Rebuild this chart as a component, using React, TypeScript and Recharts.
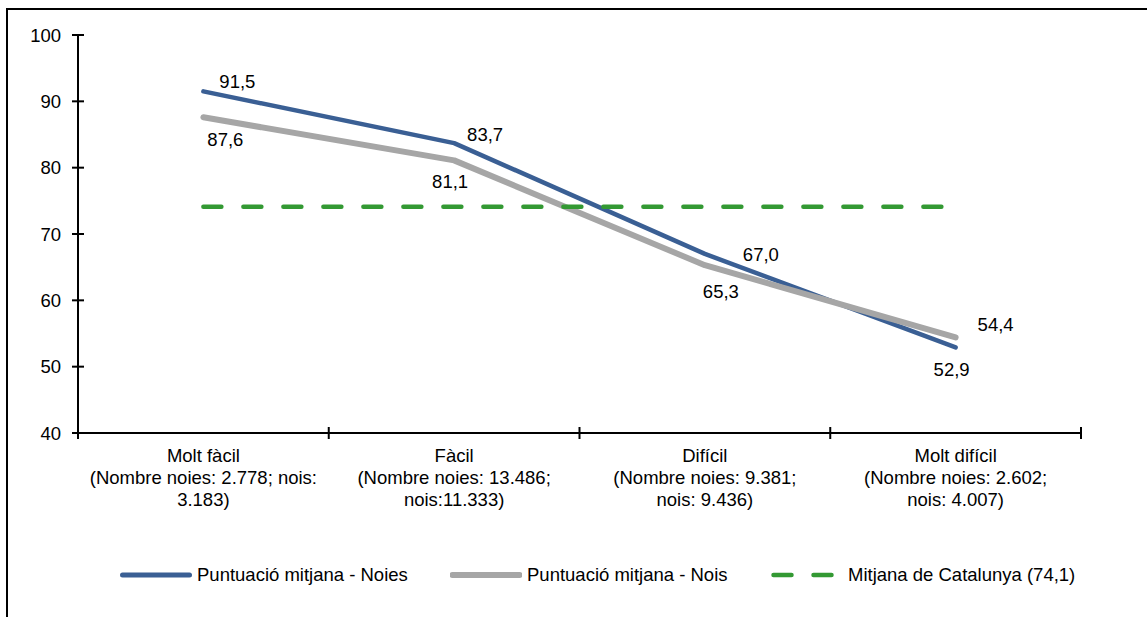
import React from 'react'
import { LineChart, Line, XAxis, YAxis, Legend, LabelList } from 'recharts'

const categories = ['Molt fàcil', 'Fàcil', 'Difícil', 'Molt difícil']
const categoryLines = [
  ['Molt fàcil', '(Nombre noies: 2.778; nois:', '3.183)'],
  ['Fàcil', '(Nombre noies: 13.486;', 'nois:11.333)'],
  ['Difícil', '(Nombre noies: 9.381;', 'nois: 9.436)'],
  ['Molt difícil', '(Nombre noies: 2.602;', 'nois: 4.007)'],
]
const noies = [91.5, 83.7, 67.0, 52.9]
const nois = [87.6, 81.1, 65.3, 54.4]
const mitjana = [74.1, 74.1, 74.1, 74.1]
const yTicks = [40, 50, 60, 70, 80, 90, 100]

const data = categories.map((c, i) => ({
  cat: c,
  noies: noies[i],
  nois: nois[i],
  mitjana: mitjana[i],
}))

const FONT = '"Liberation Sans", Arial, sans-serif'
const FS = 18.5
const BLUE = '#3A5F94'
const GRAY = '#A6A6A6'
const GREEN = '#339933'

// label offsets (dx, dy) from each point, as placed in the original
const noiesOffsets = [[34, -10], [31, -9], [56, 1], [-4, 22]]
const noisOffsets = [[22, 22], [-4, 21], [16, 26], [40, -13]]

const fmt = (v: number) => v.toFixed(1).replace('.', ',')

const makeLabel = (offsets: number[][]) => (props: any) => {
  const { x, y, value, index } = props
  const [dx, dy] = offsets[index] || [0, 0]
  return (
    <text
      x={x + dx}
      y={y + dy}
      textAnchor="middle"
      dominantBaseline="central"
      fontFamily={FONT}
      fontSize={FS}
      fill="#000"
    >
      {fmt(value)}
    </text>
  )
}

const YTick = (props: any) => {
  const { x, y, payload } = props
  return (
    <g>
      <line x1={x - 6} x2={x + 6} y1={y} y2={y} stroke="#000" strokeWidth={2} />
      <text
        x={x - 17}
        y={y}
        textAnchor="end"
        dominantBaseline="central"
        fontFamily={FONT}
        fontSize={FS}
        fill="#000"
      >
        {payload.value}
      </text>
    </g>
  )
}

const XTick = (props: any) => {
  const { x, y, payload, index } = props
  const half = payload.offset || 125.4
  const lines = categoryLines[index] || [payload.value]
  return (
    <g>
      <line x1={x - half} x2={x - half} y1={y - 6} y2={y + 6} stroke="#000" strokeWidth={2} />
      {index === categories.length - 1 && (
        <line x1={x + half} x2={x + half} y1={y - 6} y2={y + 6} stroke="#000" strokeWidth={2} />
      )}
      <text x={x} y={y} textAnchor="middle" fontFamily={FONT} fontSize={FS} fill="#000">
        {lines.map((l, i) => (
          <tspan key={i} x={x} dy={i === 0 ? 28.5 : 22}>
            {l}
          </tspan>
        ))}
      </text>
    </g>
  )
}

const legendItems = [
  { name: 'Puntuació mitjana - Noies', color: BLUE, width: 5, dash: undefined, box: 330 },
  { name: 'Puntuació mitjana - Nois', color: GRAY, width: 6, dash: undefined, box: 321 },
  { name: 'Mitjana de Catalunya (74,1)', color: GREEN, width: 4.5, dash: '18 22', box: 320 },
]

const renderLegend = () => (
  <div
    style={{
      display: 'flex',
      alignItems: 'center',
      height: 24,
      paddingLeft: 112,
      fontFamily: FONT,
      fontSize: FS,
      color: '#000',
      whiteSpace: 'nowrap',
    }}
  >
    {legendItems.map((it) => (
      <div key={it.name} style={{ display: 'flex', alignItems: 'center', width: it.box }}>
        <svg width={72} height={10} style={{ marginRight: 5 }}>
          <line
            x1={2.5}
            x2={69.5}
            y1={5}
            y2={5}
            stroke={it.color}
            strokeWidth={it.width}
            strokeLinecap="round"
            strokeDasharray={it.dash}
          />
        </svg>
        <span>{it.name}</span>
      </div>
    ))}
  </div>
)

export default function App() {
  return (
    <div
      style={{
        position: 'fixed',
        left: 6,
        top: 8,
        width: 1160,
        height: 630,
        borderLeft: '2px solid #000',
        borderTop: '2px solid #000',
        background: '#fff',
      }}
    >
      <LineChart
        width={1139}
        height={607}
        data={data}
        margin={{ top: 25, right: 66, left: 10, bottom: 30 }}
      >
        <XAxis
          dataKey="cat"
          scale="band"
          height={130}
          tickLine={false}
          tickSize={0}
          tickMargin={0}
          axisLine={{ stroke: '#000', strokeWidth: 2 }}
          tick={<XTick />}
          interval={0}
        />
        <YAxis
          domain={[40, 100]}
          ticks={yTicks}
          width={60}
          tickLine={false}
          tickSize={0}
          tickMargin={0}
          axisLine={{ stroke: '#000', strokeWidth: 2 }}
          tick={<YTick />}
          allowDataOverflow
        />
        <Legend
          verticalAlign="bottom"
          content={renderLegend}
          wrapperStyle={{ left: 0, width: 1139 }}
        />
        <Line
          dataKey="noies"
          name="Puntuació mitjana - Noies"
          stroke={BLUE}
          strokeWidth={4.5}
          strokeLinecap="round"
          strokeLinejoin="round"
          dot={false}
          activeDot={false}
          isAnimationActive={false}
        >
          <LabelList dataKey="noies" content={makeLabel(noiesOffsets)} />
        </Line>
        <Line
          dataKey="nois"
          name="Puntuació mitjana - Nois"
          stroke={GRAY}
          strokeWidth={6}
          strokeLinecap="round"
          strokeLinejoin="round"
          dot={false}
          activeDot={false}
          isAnimationActive={false}
        >
          <LabelList dataKey="nois" content={makeLabel(noisOffsets)} />
        </Line>
        <Line
          dataKey="mitjana"
          name="Mitjana de Catalunya (74,1)"
          stroke={GREEN}
          strokeWidth={4.5}
          strokeLinecap="round"
          strokeDasharray="18 22"
          dot={false}
          activeDot={false}
          isAnimationActive={false}
        />
      </LineChart>
    </div>
  )
}
